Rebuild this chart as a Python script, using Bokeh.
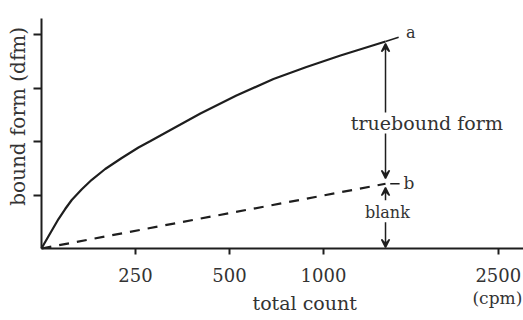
import math
from bokeh.plotting import figure
from bokeh.models import Range1d, FixedTicker, Label, Arrow, VeeHead
from bokeh.embed import file_html
from bokeh.resources import INLINE

# ---- data (x in axis-position units; y in arbitrary bound-form units) ----
curve_a_x = [0, 0.027, 0.110, 0.181, 0.252, 0.322, 0.429, 0.535, 0.678, 0.854, 1.032, 1.160,
             1.372, 1.691, 2.074, 2.468, 2.819, 3.181, 3.660]
curve_a_y = [0, 0.084, 0.336, 0.551, 0.738, 0.907, 1.107, 1.284, 1.486, 1.692, 1.888, 2.009,
             2.215, 2.523, 2.860, 3.168, 3.393, 3.607, 3.869]
blank_b_x = [0, 3.66]
blank_b_y = [0, 1.21]
x_tick_pos = [1, 2, 3, 4.86]
x_tick_labels = ["250", "500", "1000", "2500"]
y_tick_pos = [1, 2, 3, 4]
x_axis_end = 5.13
y_axis_end = 4.30

FONT = "DejaVu Serif"
INK = "#1e1e1e"
TXT = "#333333"

p = figure(width=523, height=320, output_backend="svg", toolbar_location=None,
           x_range=Range1d(-0.436, 5.128), y_range=Range1d(-1.346, 4.636),
           min_border=0)
p.outline_line_color = None
p.xgrid.visible = False
p.ygrid.visible = False
p.background_fill_color = "white"
p.border_fill_color = "white"

# axes (fixed at the origin, inside the frame)
p.xaxis.fixed_location = 0
p.xaxis.bounds = (0, x_axis_end)
p.xaxis.ticker = FixedTicker(ticks=x_tick_pos)
p.xaxis.major_label_overrides = {k: v for k, v in zip(x_tick_pos, x_tick_labels)}
p.xaxis.major_tick_out = 6
p.xaxis.major_tick_in = 0
p.xaxis.minor_tick_line_color = None
p.xaxis.axis_line_width = 2
p.xaxis.axis_line_color = INK
p.xaxis.major_tick_line_width = 2
p.xaxis.major_tick_line_color = INK
p.xaxis.major_label_text_font = FONT
p.xaxis.major_label_text_font_size = "18px"
p.xaxis.major_label_text_color = TXT
p.xaxis.major_label_standoff = 14

p.yaxis.fixed_location = 0
p.yaxis.bounds = (0, y_axis_end)
p.yaxis.ticker = FixedTicker(ticks=y_tick_pos)
p.yaxis.major_label_overrides = {k: "" for k in y_tick_pos}
p.yaxis.major_tick_out = 8
p.yaxis.major_tick_in = 0
p.yaxis.minor_tick_line_color = None
p.yaxis.axis_line_width = 2
p.yaxis.axis_line_color = INK
p.yaxis.major_tick_line_width = 2
p.yaxis.major_tick_line_color = INK

# curves
p.line(curve_a_x, curve_a_y, line_width=2.2, line_color=INK)
p.line(blank_b_x, blank_b_y, line_width=2.2, line_color=INK, line_dash="10 8")

# short leaders to the letters
p.line([curve_a_x[-1], curve_a_x[-1] + 0.14], [curve_a_y[-1], curve_a_y[-1] + 0.08], line_width=1.5, line_color=INK)
p.line([blank_b_x[-1] + 0.05, blank_b_x[-1] + 0.15], [blank_b_y[-1], blank_b_y[-1]], line_width=1.5, line_color=INK)

# arrows along the bracket
ax = curve_a_x[-1]
arrows = [(2.54, 3.83), (2.15, 1.31), (0.90, 1.14), (0.49, 0.02)]
for ys, ye in arrows:
    p.add_layout(Arrow(end=VeeHead(size=8, line_color=INK, fill_color=INK, line_width=1.5),
                       x_start=ax, y_start=ys, x_end=ax, y_end=ye,
                       line_width=1.5, line_color=INK))

def lab(x, y, text, size, align="center", angle=0.0):
    p.add_layout(Label(x=x, y=y, text=text, text_font=FONT, text_font_size=size,
                       text_color=TXT, text_align=align, text_baseline="middle", angle=angle))

lab(4.10, 2.34, "truebound form", "19px")
lab(3.68, 0.67, "blank", "16px")
lab(3.93, 4.03, "a", "16px")
lab(3.91, 1.23, "b", "17px")
lab(2.80, -1.01, "total count", "19px")
lab(4.85, -0.93, "(cpm)", "17px")
lab(-0.255, 2.47, "bound form (dfm)", "20px", angle=math.pi / 2)

open("out.html", "w").write(file_html(p, INLINE))
